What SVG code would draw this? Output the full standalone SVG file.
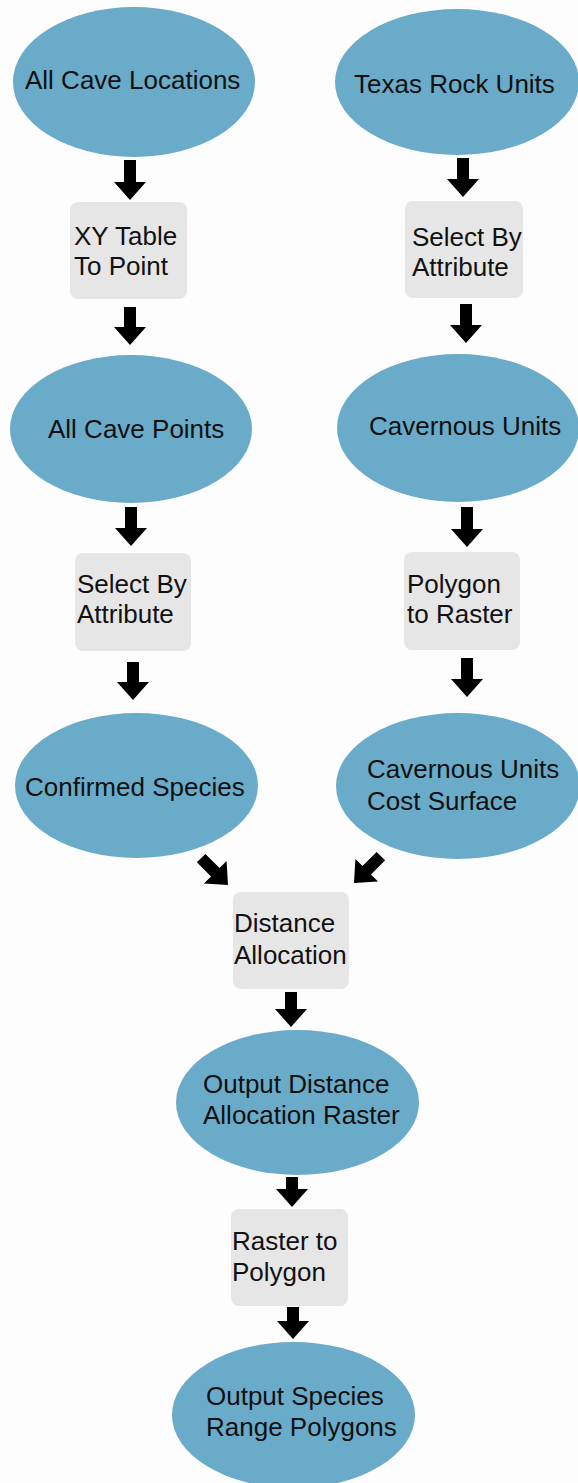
<svg xmlns="http://www.w3.org/2000/svg" width="578" height="1483" viewBox="0 0 578 1483">
<style>
.bg{fill:#fdfdfd}
.data{fill:#6aabc9}
.tool{fill:#e6e6e6}
.arrow{fill:#000}
text{font-family:"Liberation Sans",Arial,sans-serif;font-size:26px;fill:#111}
</style>
<defs>
<path id="diag" d="M-6,-38 H6 V-18 H16 L0,0 L-16,-18 H-6 Z"/>
</defs>
<rect class="bg" x="0" y="0" width="578" height="1483"/>

<g id="connectors">
<polygon class="arrow" points="124,160 136,160 136,182 146,182 130,200 114,182 124,182"/>
<polygon class="arrow" points="457,158 469,158 469,179 479,179 463,197 447,179 457,179"/>
<polygon class="arrow" points="124,307 136,307 136,327 146,327 130,345 114,327 124,327"/>
<polygon class="arrow" points="460,304 472,304 472,325 482,325 466,343 450,325 460,325"/>
<polygon class="arrow" points="125,507 137,507 137,528 147,528 131,546 115,528 125,528"/>
<polygon class="arrow" points="461,507 473,507 473,529 483,529 467,547 451,529 461,529"/>
<polygon class="arrow" points="127,662 139,662 139,682 149,682 133,700 117,682 127,682"/>
<polygon class="arrow" points="461,658 473,658 473,679 483,679 467,697 451,679 461,679"/>
<use href="#diag" class="arrow" transform="translate(228,885) rotate(-45)"/>
<use href="#diag" class="arrow" transform="translate(354,883) rotate(45)"/>
<polygon class="arrow" points="285,992 297,992 297,1009 307,1009 291,1027 275,1009 285,1009"/>
<polygon class="arrow" points="286,1177 298,1177 298,1189 308,1189 292,1207 276,1189 286,1189"/>
<polygon class="arrow" points="287,1307 299,1307 299,1321 309,1321 293,1339 277,1321 287,1321"/>
</g>

<g id="all-cave-locations">
<ellipse class="data" cx="134" cy="82" rx="121" ry="75"/>
<text x="25" y="89">All Cave Locations</text>
</g>
<g id="texas-rock-units">
<ellipse class="data" cx="457" cy="82" rx="122" ry="73"/>
<text x="354" y="93">Texas Rock Units</text>
</g>
<g id="xy-table-to-point">
<rect class="tool" x="70" y="202" width="117" height="97" rx="8"/>
<text x="74" y="245">XY Table</text>
<text x="74" y="275">To Point</text>
</g>
<g id="select-by-attribute-right">
<rect class="tool" x="405" y="201" width="118" height="97" rx="8"/>
<text x="412" y="246">Select By</text>
<text x="412" y="276">Attribute</text>
</g>
<g id="all-cave-points">
<ellipse class="data" cx="131" cy="429" rx="121" ry="74"/>
<text x="48" y="438">All Cave Points</text>
</g>
<g id="cavernous-units">
<ellipse class="data" cx="458" cy="428" rx="121" ry="74"/>
<text x="369" y="435">Cavernous Units</text>
</g>
<g id="select-by-attribute-left">
<rect class="tool" x="75" y="553" width="116" height="98" rx="8"/>
<text x="77" y="593">Select By</text>
<text x="77" y="623">Attribute</text>
</g>
<g id="polygon-to-raster">
<rect class="tool" x="404" y="552" width="116" height="98" rx="8"/>
<text x="407" y="593">Polygon</text>
<text x="407" y="623">to Raster</text>
</g>
<g id="confirmed-species">
<ellipse class="data" cx="136.5" cy="785.5" rx="121.5" ry="72.5"/>
<text x="25" y="796">Confirmed Species</text>
</g>
<g id="cavernous-units-cost-surface">
<ellipse class="data" cx="458" cy="786" rx="122" ry="73"/>
<text x="367" y="778">Cavernous Units</text>
<text x="367" y="810">Cost Surface</text>
</g>
<g id="distance-allocation">
<rect class="tool" x="233" y="892" width="116" height="97" rx="8"/>
<text x="234" y="932">Distance</text>
<text x="234" y="964">Allocation</text>
</g>
<g id="output-distance-allocation-raster">
<ellipse class="data" cx="297.5" cy="1102.5" rx="121.5" ry="72.5"/>
<text x="203" y="1093">Output Distance</text>
<text x="203" y="1124">Allocation Raster</text>
</g>
<g id="raster-to-polygon">
<rect class="tool" x="231" y="1209" width="117" height="97" rx="8"/>
<text x="232" y="1250">Raster to</text>
<text x="232" y="1281">Polygon</text>
</g>
<g id="output-species-range-polygons">
<ellipse class="data" cx="293.5" cy="1415" rx="121.5" ry="73"/>
<text x="206" y="1405">Output Species</text>
<text x="206" y="1436">Range Polygons</text>
</g>
</svg>
